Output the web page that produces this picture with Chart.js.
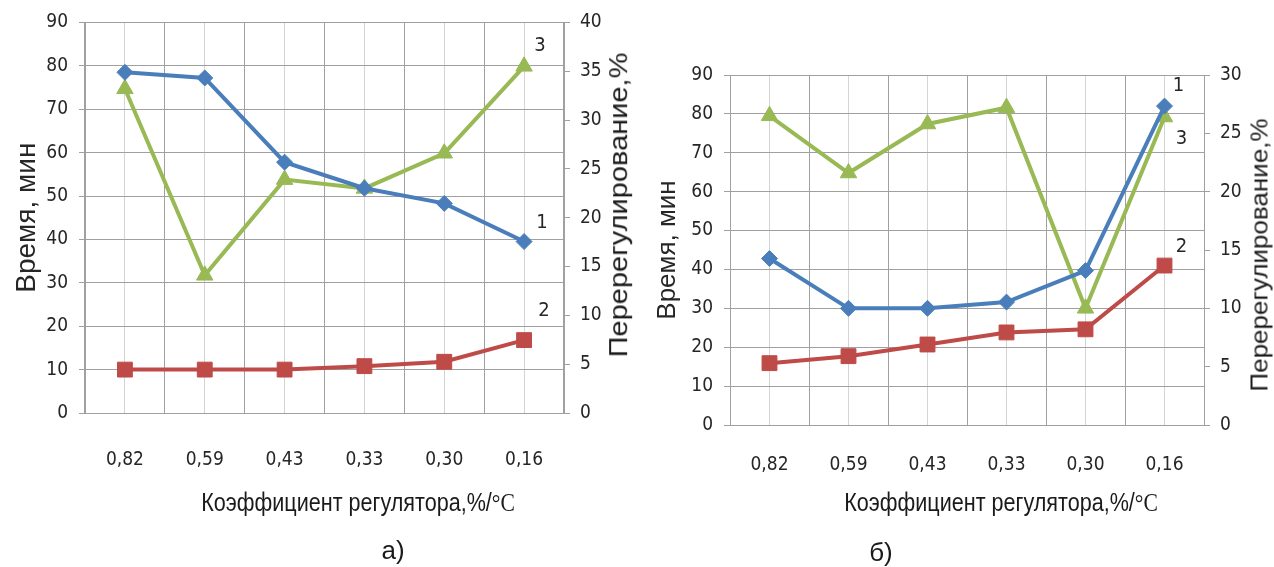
<!DOCTYPE html>
<html><head><meta charset="utf-8">
<script src="https://cdn.jsdelivr.net/npm/chart.js@4.4.0/dist/chart.umd.min.js"></script>
<style>
html,body{margin:0;padding:0;background:#fff;}
#wrap{position:relative;width:1274px;height:567px;overflow:hidden;background:#fff;}
.cv{position:absolute;top:0;}
.lbl{position:absolute;white-space:nowrap;color:#1a1a1a;line-height:1;}
.xt{font-family:'Liberation Sans',Arial,sans-serif;font-size:26px;transform:translateX(-50%) scaleX(0.83);}
.xt span{font-family:'Liberation Serif',serif;}
.rt{font-family:'Liberation Sans',Arial,sans-serif;transform:translate(-50%,-50%) rotate(-90deg) scaleY(0.9);}
.cap{font-family:'Liberation Sans',Arial,sans-serif;font-size:26px;transform:translate(-50%,-50%);}
</style></head><body>
<div id="wrap">
  <div class="cv" style="left:0;width:640px;height:567px"><canvas id="ca" width="640" height="567"></canvas></div>
  <div class="cv" style="left:640px;width:634px;height:567px"><canvas id="cb" width="634" height="567"></canvas></div>
  <div class="lbl xt" style="left:358px;top:489px">Коэффициент регулятора,%/<span>°C</span></div>
  <div class="lbl xt" style="left:1001px;top:489px">Коэффициент регулятора,%/<span>°C</span></div>
  <div class="lbl rt" style="left:619px;top:205px;font-size:29px">Перерегулирование,%</div>
  <div class="lbl rt" style="left:1259px;top:255px;font-size:26px">Перерегулирование,%</div>
  <div class="lbl cap" style="left:393px;top:550px">а)</div>
  <div class="lbl cap" style="left:881px;top:552px">б)</div>
</div>
<script>
// ---- data ----
const categories = ['0,82', '0,59', '0,43', '0,33', '0,30', '0,16'];
const seriesNames = ['1', '2', '3'];
const leftTitle = 'Время, мин';

// chart а)
const timeA1 = [78.5, 77.2, 57.8, 51.8, 48.3, 39.5];
const timeA2 = [10, 10, 10, 10.8, 11.8, 16.8];
const overA3 = [33.2, 14.1, 23.9, 23.0, 26.6, 35.5];
const leftMaxA = 90, rightMaxA = 40;

// chart б)
const timeB1 = [42.8, 30, 30, 31.6, 39.7, 82];
const timeB2 = [15.9, 17.7, 20.7, 23.8, 24.6, 41];
const overB3 = [26.5, 21.6, 25.8, 27.2, 10.0, 26.4];
const leftMaxB = 90, rightMaxB = 30;

// ---- styling ----
const NARROW = "'Liberation Sans Narrow','DejaVu Sans Condensed',sans-serif";
const SANS = "'Liberation Sans',Arial,sans-serif";
const BLUE = '#4a7ebb', RED = '#be4b48', GREEN = '#98b954';
const GRID = '#a0a0a0', GRID_LIGHT = '#d4d4d4', TXT = '#262626';

const endLabels = {
  id: 'endLabels',
  afterDatasetsDraw(chart, args, opts) {
    const ctx = chart.ctx;
    ctx.save();
    ctx.font = opts.font;
    ctx.fillStyle = opts.color;
    ctx.textAlign = 'center';
    ctx.textBaseline = 'middle';
    chart.data.datasets.forEach((ds, i) => {
      const meta = chart.getDatasetMeta(i);
      const pt = meta.data[meta.data.length - 1];
      const off = opts.offsets[i];
      ctx.fillText(ds.label, pt.x + off[0], pt.y + off[1]);
    });
    ctx.restore();
  }
};

function build(id, d1, d2, d3, leftMax, rightMax, g) {
  new Chart(document.getElementById(id), {
    type: 'line',
    data: {
      labels: categories,
      datasets: [
        { label: seriesNames[0], data: d1, yAxisID: 'y', borderColor: BLUE, backgroundColor: BLUE,
          borderWidth: 4, pointStyle: 'rectRot', pointRadius: 8, pointBorderWidth: 1, tension: 0 },
        { label: seriesNames[1], data: d2, yAxisID: 'y', borderColor: RED, backgroundColor: RED,
          borderWidth: 4, pointStyle: 'rect', pointRadius: 10.5, pointBorderWidth: 1, tension: 0 },
        { label: seriesNames[2], data: d3, yAxisID: 'y1', borderColor: GREEN, backgroundColor: GREEN,
          borderWidth: 4, pointStyle: 'triangle', pointRadius: 9.5, pointBorderWidth: 1, tension: 0 }
      ]
    },
    options: {
      responsive: false,
      animation: false,
      devicePixelRatio: 1,
      layout: { padding: { top: g.top, left: 0, right: 0, bottom: 0 } },
      plugins: {
        legend: { display: false },
        tooltip: { enabled: false },
        endLabels: { font: '20px ' + NARROW, color: TXT, offsets: g.offsets }
      },
      scales: {
        x: {
          type: 'category', position: 'bottom', offset: true,
          grid: { offset: true, color: GRID, drawTicks: false },
          border: { color: GRID },
          ticks: { color: TXT, font: { family: NARROW, size: 19 }, padding: g.xPad, maxRotation: 0 },
          afterFit: s => { s.height = g.xHeight; }
        },
        x2: {
          type: 'category', position: 'bottom', offset: true, labels: categories,
          grid: { offset: false, color: GRID_LIGHT, drawTicks: false },
          border: { display: false },
          ticks: { display: false },
          afterFit: s => { s.height = 0; }
        },
        y: {
          position: 'left', min: 0, max: leftMax,
          ticks: { stepSize: 10, color: TXT, font: { family: NARROW, size: 19 }, padding: 11 },
          grid: { color: GRID, tickLength: 6 },
          border: { color: GRID },
          title: { display: true, text: leftTitle, color: TXT,
                   font: { family: SANS, size: g.titleSize }, padding: { top: g.titlePad, bottom: 0 } },
          afterFit: s => { s.width = g.leftW; }
        },
        y1: {
          position: 'right', min: 0, max: rightMax,
          ticks: { stepSize: 5, color: TXT, font: { family: NARROW, size: 19 }, padding: 10 },
          grid: { drawOnChartArea: false, color: GRID, tickLength: 6 },
          border: { color: GRID },
          afterFit: s => { s.width = g.rightW; }
        }
      }
    },
    plugins: [endLabels]
  });
}

build('ca', timeA1, timeA2, overA3, leftMaxA, rightMaxA, {
  top: 22, leftW: 85, rightW: 76, xHeight: 154, xPad: 36, titleSize: 28, titlePad: 10,
  offsets: [[18, -19], [20, -29], [16, -21]]
});
build('cb', timeB1, timeB2, overB3, leftMaxB, rightMaxB, {
  top: 75, leftW: 90, rightW: 70, xHeight: 142, xPad: 29, titleSize: 26, titlePad: 12,
  offsets: [[14, -20], [17, -19], [17, 22]]
});
</script>
</body></html>
